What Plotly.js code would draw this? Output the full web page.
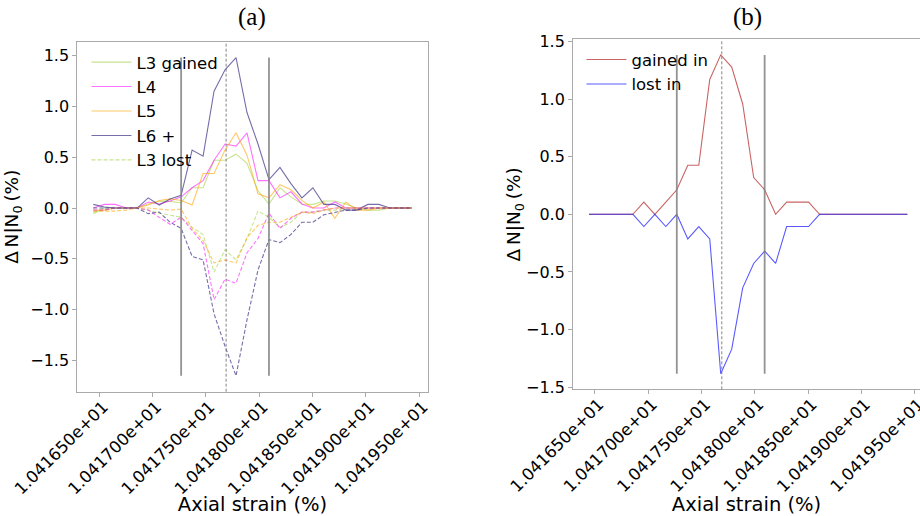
<!DOCTYPE html>
<html>
<head>
<meta charset="utf-8">
<script src="https://cdn.plot.ly/plotly-3.0.1.min.js"></script>
<style>html,body{margin:0;padding:0;background:#fff;}#chart{width:920px;height:516px;}</style>
</head>
<body>
<div id="chart"></div>
<script>
// Axial strain (%) sample positions
const strain = [10.416444,10.416547,10.416650,10.416753,10.416856,10.416959,10.417062,10.417165,10.417268,10.417371,
                10.417474,10.417577,10.417680,10.417783,10.417886,10.417989,10.418092,10.418195,10.418298,10.418401,
                10.418504,10.418607,10.418710,10.418813,10.418916,10.419019,10.419122,10.419225,10.419328,10.419431];

// Panel (a): gained (solid) and lost (dashed) per level
const L3_gained = [-0.056,0,0,0,0,0.04,0.066,0.066,0.05,0.2,0.2,0.47,0.47,0.53,0.44,0.17,0.04,0.2,0.11,0.04,0.036,0.07,0.07,0.04,0,-0.02,-0.02,0,0,0];
const L4_gained = [0,0.036,0.036,0,0,0.06,0.04,0.07,0.11,0.2,0.27,0.47,0.63,0.61,0.74,0.27,0.27,0.1,0.16,0.04,0,0,0.06,0,0,0,0,0,0,0];
const L5_gained = [-0.02,-0.02,0,0,0,0.03,0.075,0.09,0.075,0.03,0.34,0.34,0.57,0.74,0.52,0.14,0.1,0.23,0.18,0.075,0,0.06,-0.1,0.06,-0.02,-0.02,0,0,0,0];
const L6_gained = [0.036,0.01,0,0,0,0.1,0.03,0.09,0.125,0.57,0.51,1.15,1.36,1.48,0.94,0.63,0.28,0.40,0.24,0.1,0.2,0.036,0.036,-0.02,-0.02,0.036,0.036,0,0,0];
const L3_lost = [-0.04,-0.02,0,0,0,-0.02,-0.05,-0.07,-0.09,-0.19,-0.26,-0.63,-0.41,-0.51,-0.30,-0.03,-0.09,-0.19,-0.14,-0.04,-0.04,-0.02,-0.02,0,0,0,0,0,0,0];
const L4_lost = [-0.02,-0.02,0,0,0,-0.02,-0.09,-0.16,-0.09,-0.22,-0.35,-0.90,-0.70,-0.74,-0.44,-0.30,-0.05,-0.2,-0.1,-0.04,-0.04,-0.02,0,0,0,0,0,0,0,0];
const L5_lost = [-0.03,-0.03,-0.03,-0.02,0,0,-0.01,-0.02,-0.01,-0.2,-0.32,-0.54,-0.51,-0.54,-0.29,-0.17,-0.14,-0.14,-0.09,-0.04,-0.056,-0.02,0,0,0,0,0,0,0,0];
const L6_lost = [0,0,0,0,0,-0.055,-0.04,-0.14,-0.2,-0.475,-0.51,-1.04,-1.36,-1.65,-1.10,-0.61,-0.31,-0.34,-0.26,-0.14,-0.14,-0.066,-0.04,-0.02,-0.02,0,0,0,0,0];

// Panel (b): totals
const gained_in = [0,0,0,0,0,0.106,0,0.106,0.213,0.426,0.426,1.170,1.383,1.277,0.957,0.319,0.213,0,0.106,0.106,0.106,0,0,0,0,0,0,0,0,0];
const lost_in = [0,0,0,0,0,-0.106,0,-0.106,0,-0.213,-0.106,-0.213,-1.383,-1.170,-0.638,-0.426,-0.319,-0.426,-0.106,-0.106,-0.106,0,0,0,0,0,0,0,0,0];

// Marker positions
const boundStrain = [10.417268, 10.418092];
const peakStrain = 10.41769;

// Tick labels
const xTickVals = [10.4165,10.417,10.4175,10.418,10.4185,10.419,10.4195];
const xTickText = ['1.041650e+01','1.041700e+01','1.041750e+01','1.041800e+01','1.041850e+01','1.041900e+01','1.041950e+01'];
const yTickVals = [-1.5,-1.0,-0.5,0.0,0.5,1.0,1.5];
const yTickText = ['\u22121.5','\u22121.0','\u22120.5','0.0','0.5','1.0','1.5'];

const FONT = 'DejaVu Sans, sans-serif';
const cols = {
  L3: 'rgba(154,205,50,0.55)',
  L4: 'rgba(255,0,255,0.55)',
  L5: 'rgba(255,165,0,0.6)',
  L6: 'rgba(72,61,139,0.75)'
};
const LW = 1.1;

function line(x, y, color, dash, name, show, xa, ya, legend) {
  return {x: x, y: y, type: 'scatter', mode: 'lines', name: name, showlegend: show,
          line: {color: color, width: LW, dash: dash}, xaxis: xa, yaxis: ya, legend: legend, hoverinfo: 'skip'};
}

const D = '4px,2px';
const traces = [
  line(strain, L3_gained, cols.L3, 'solid', 'L3 gained', true, 'x', 'y', 'legend'),
  line(strain, L4_gained, cols.L4, 'solid', 'L4', true, 'x', 'y', 'legend'),
  line(strain, L5_gained, cols.L5, 'solid', 'L5', true, 'x', 'y', 'legend'),
  line(strain, L6_gained, cols.L6, 'solid', 'L6 +', true, 'x', 'y', 'legend'),
  line(strain, L3_lost, cols.L3, D, 'L3 lost', true, 'x', 'y', 'legend'),
  line(strain, L4_lost, cols.L4, D, 'L4 lost', false, 'x', 'y', 'legend'),
  line(strain, L5_lost, cols.L5, D, 'L5 lost', false, 'x', 'y', 'legend'),
  line(strain, L6_lost, cols.L6, D, 'L6 lost', false, 'x', 'y', 'legend'),
  line(strain, gained_in, 'rgba(178,34,34,0.7)', 'solid', 'gained in', true, 'x2', 'y2', 'legend2'),
  line(strain, lost_in, 'rgba(0,0,255,0.65)', 'solid', 'lost in', true, 'x2', 'y2', 'legend2')
];

const allA = [].concat(L3_gained, L4_gained, L5_gained, L6_gained, L3_lost, L4_lost, L5_lost, L6_lost);
const allB = [].concat(gained_in, lost_in);
const aMin = Math.min.apply(null, allA), aMax = Math.max.apply(null, allA);
const bMin = Math.min.apply(null, allB), bMax = Math.max.apply(null, allB);

const shapes = [];
boundStrain.forEach(function (s) {
  shapes.push({type: 'line', xref: 'x', yref: 'y', x0: s, x1: s, y0: aMin, y1: aMax, line: {color: 'rgba(128,128,128,0.85)', width: 1.8}});
  shapes.push({type: 'line', xref: 'x2', yref: 'y2', x0: s, x1: s, y0: bMin, y1: bMax, line: {color: 'rgba(128,128,128,0.85)', width: 1.8}});
});
shapes.push({type: 'line', xref: 'x', yref: 'paper', x0: peakStrain, x1: peakStrain, y0: 0.2409, y1: 0.9192, line: {color: '#777', width: 0.9, dash: '3px,2px'}});
shapes.push({type: 'line', xref: 'x2', yref: 'paper', x0: peakStrain, x1: peakStrain, y0: 0.2455, y1: 0.9238, line: {color: '#777', width: 0.9, dash: '3px,2px'}});

function xaxis(domain, range, anchor) {
  return {domain: domain, range: range, anchor: anchor, tickmode: 'array', tickvals: xTickVals, ticktext: xTickText,
          tickangle: -45, ticks: 'outside', ticklen: 4, tickcolor: '#aaa', showline: true, mirror: true,
          linecolor: '#aaa', linewidth: 1, showgrid: false, zeroline: false, automargin: false,
          ticklabeloverflow: 'allow', ticklabelstandoff: -6, ticklabelshift: 4,
          tickfont: {family: FONT, size: 16.5, color: '#000'},
          title: {text: 'Axial strain (%)', font: {family: FONT, size: 19.5, color: '#000'}, standoff: 0}};
}
function yaxis(domain, range, anchor, standoff) {
  return {domain: domain, range: range, anchor: anchor, tickmode: 'array', tickvals: yTickVals, ticktext: yTickText,
          ticks: 'outside', ticklen: 4, tickcolor: '#aaa', showline: true, mirror: true,
          linecolor: '#aaa', linewidth: 1, showgrid: false, zeroline: false, automargin: false,
          tickfont: {family: FONT, size: 16, color: '#000'},
          title: {text: '\u0394\u2009N|N<sub>0</sub>\u2009(%)', font: {family: FONT, size: 18.5, color: '#000'}, standoff: standoff}};
}

const layout = {
  width: 920, height: 516,
  margin: {l: 0, r: 0, t: 0, b: 0},
  paper_bgcolor: '#fff', plot_bgcolor: '#fff',
  showlegend: true,
  xaxis: xaxis([0.0840, 0.4649], [10.416294, 10.419581], 'y'),
  yaxis: yaxis([0.2409, 0.9192], [-1.8065, 1.6365], 'x', 6),
  xaxis2: xaxis([0.6229, 1.0], [10.416295, 10.419549], 'y2'),
  yaxis2: yaxis([0.2455, 0.9238], [-1.518, 1.518], 'x2', 0),
  legend: {x: 0.094, y: 0.913, xanchor: 'left', yanchor: 'top', bgcolor: 'rgba(0,0,0,0)', itemwidth: 40,
           font: {family: FONT, size: 16.5, color: '#000'}},
  legend2: {x: 0.632, y: 0.918, xanchor: 'left', yanchor: 'top', bgcolor: 'rgba(0,0,0,0)', itemwidth: 40,
           font: {family: FONT, size: 16.5, color: '#000'}},
  shapes: shapes,
  annotations: [
    {text: '(a)', xref: 'paper', yref: 'paper', x: 0.2735, y: 1 - 17/516, xanchor: 'center', yanchor: 'middle', showarrow: false,
     font: {family: 'Liberation Serif, serif', size: 25, color: '#000'}},
    {text: '(b)', xref: 'paper', yref: 'paper', x: 0.8125, y: 1 - 17/516, xanchor: 'center', yanchor: 'middle', showarrow: false,
     font: {family: 'Liberation Serif, serif', size: 25, color: '#000'}}
  ]
};

Plotly.newPlot('chart', traces, layout, {displayModeBar: false, staticPlot: true});
</script>
</body>
</html>
